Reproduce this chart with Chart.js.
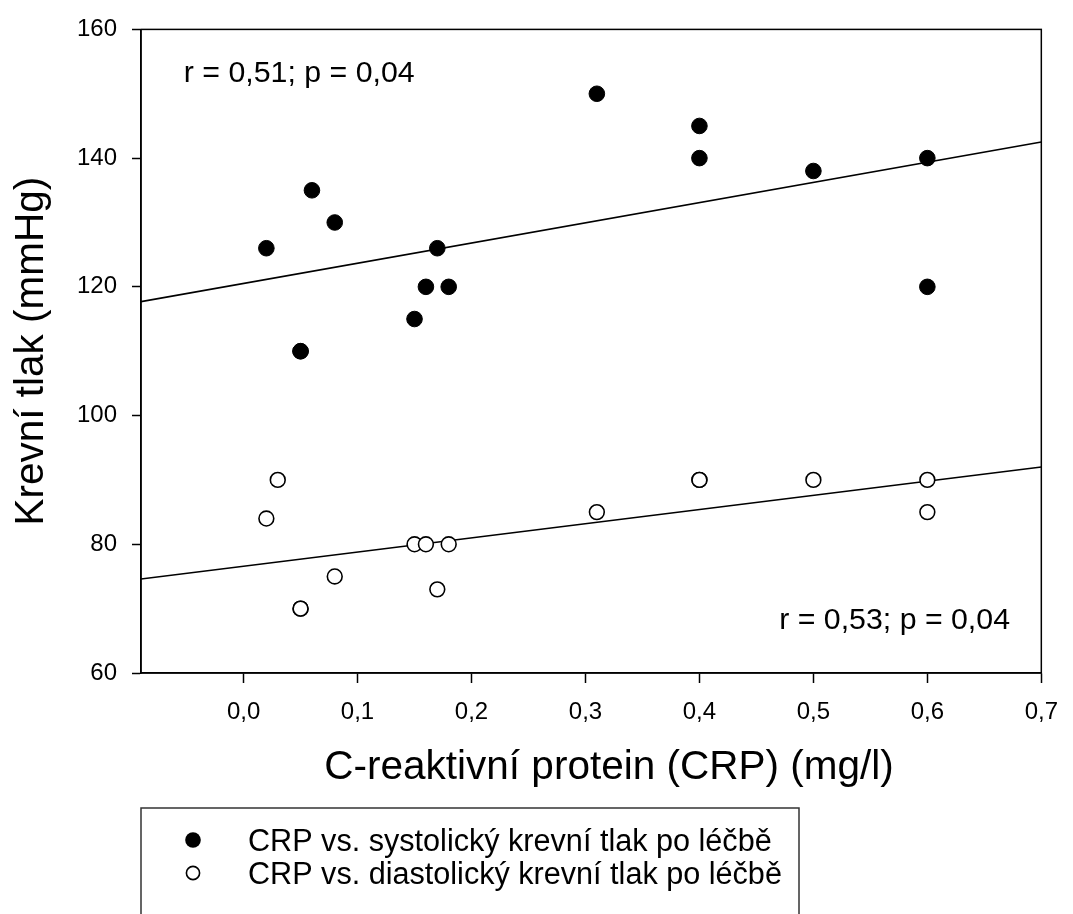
<!DOCTYPE html>
<html>
<head>
<meta charset="utf-8">
<script src="https://cdn.jsdelivr.net/npm/chart.js@4/dist/chart.umd.min.js"></script>
<style>
  html, body { margin: 0; padding: 0; background: #fff; }
  canvas { display: block; }
</style>
</head>
<body>
<canvas id="c" width="1073" height="914"></canvas>
<script>
// ---- data ----
const sysX = [0.02, 0.05, 0.05, 0.06, 0.08, 0.15, 0.16, 0.17, 0.18, 0.31, 0.40, 0.40, 0.50, 0.60, 0.60];
const sysY = [126, 110, 110, 135, 130, 115, 120, 126, 120, 150, 145, 140, 138, 140, 120];
const diaX = [0.02, 0.03, 0.05, 0.05, 0.08, 0.15, 0.16, 0.17, 0.18, 0.31, 0.40, 0.40, 0.50, 0.60, 0.60];
const diaY = [84, 90, 70, 70, 75, 80, 80, 73, 80, 85, 90, 90, 90, 90, 85];
const fitX = [-0.09, 0.70];
const sysFitY = [117.7, 142.5];
const diaFitY = [74.6, 92.0];
const xTickValues = [0.0, 0.1, 0.2, 0.3, 0.4, 0.5, 0.6, 0.7];
const xTickLabels = ['0,0', '0,1', '0,2', '0,3', '0,4', '0,5', '0,6', '0,7'];
const yTickValues = [60, 80, 100, 120, 140, 160];
const yTickLabels = ['60', '80', '100', '120', '140', '160'];
const seriesLabels = ['CRP vs. systolický krevní tlak po léčbě', 'CRP vs. diastolický krevní tlak po léčbě'];
const statTexts = ['r = 0,51; p = 0,04', 'r = 0,53; p = 0,04'];
const xTitle = 'C-reaktivní protein (CRP) (mg/l)';
const yTitle = 'Krevní tlak (mmHg)';

const FONT = '"Liberation Sans", Arial, Helvetica, sans-serif';
const pts = (xs, ys) => xs.map((x, i) => ({ x: x, y: ys[i] }));

const framePlugin = {
  id: 'frameAndNotes',
  afterDraw(chart) {
    const ctx = chart.ctx;
    const a = chart.chartArea;
    const xs = chart.scales.x, ys = chart.scales.y;
    ctx.save();
    // full frame around plot area
    ctx.strokeStyle = '#000';
    ctx.lineWidth = 1.5;
    ctx.strokeRect(a.left, a.top, a.right - a.left, a.bottom - a.top);

    // statistics texts (anchored in data space)
    ctx.fillStyle = '#000';
    ctx.font = '30.3px ' + FONT;
    ctx.textBaseline = 'alphabetic';
    ctx.textAlign = 'left';
    ctx.fillText(statTexts[0], xs.getPixelForValue(-0.0524), ys.getPixelForValue(151.9));
    ctx.textAlign = 'right';
    ctx.fillText(statTexts[1], xs.getPixelForValue(0.6725), ys.getPixelForValue(66.8));

    // x axis title
    ctx.font = '40.5px ' + FONT;
    ctx.textAlign = 'center';
    ctx.fillText(xTitle, 609, 779);

    // legend box
    ctx.strokeStyle = '#333';
    ctx.lineWidth = 1.5;
    ctx.strokeRect(141, 808, 658, 140);
    ctx.font = '30.6px ' + FONT;
    ctx.textAlign = 'left';
    // item 1: filled circle
    ctx.beginPath();
    ctx.arc(193, 840, 7.8, 0, Math.PI * 2);
    ctx.fillStyle = '#000';
    ctx.fill();
    ctx.fillText(seriesLabels[0], 248, 851);
    // item 2: open circle
    ctx.beginPath();
    ctx.arc(193, 873, 6.6, 0, Math.PI * 2);
    ctx.fillStyle = '#fff';
    ctx.fill();
    ctx.lineWidth = 1.6;
    ctx.strokeStyle = '#000';
    ctx.stroke();
    ctx.fillStyle = '#000';
    ctx.fillText(seriesLabels[1], 248, 884);
    ctx.restore();
  }
};

new Chart(document.getElementById('c'), {
  type: 'scatter',
  data: {
    datasets: [
      {
        label: seriesLabels[0],
        data: pts(sysX, sysY),
        pointRadius: 7.8,
        pointHoverRadius: 7.8,
        pointBackgroundColor: '#000',
        pointBorderColor: '#000',
        pointBorderWidth: 1
      },
      {
        label: seriesLabels[1],
        data: pts(diaX, diaY),
        pointRadius: 7.4,
        pointHoverRadius: 7.4,
        pointBackgroundColor: '#fff',
        pointBorderColor: '#000',
        pointBorderWidth: 1.6
      },
      {
        label: 'fit systolic',
        data: pts(fitX, sysFitY),
        showLine: true,
        pointRadius: 0,
        borderColor: '#000',
        borderWidth: 1.6,
        fill: false
      },
      {
        label: 'fit diastolic',
        data: pts(fitX, diaFitY),
        showLine: true,
        pointRadius: 0,
        borderColor: '#000',
        borderWidth: 1.6,
        fill: false
      }
    ]
  },
  options: {
    responsive: false,
    animation: false,
    devicePixelRatio: 1,
    layout: { padding: { top: 23, right: 27, left: 0, bottom: 0 } },
    plugins: {
      legend: { display: false },
      tooltip: { enabled: false }
    },
    scales: {
      x: {
        type: 'linear',
        min: -0.09,
        max: 0.7,
        afterFit(s) { s.height = 241; },
        afterBuildTicks(s) { s.ticks = xTickValues.map(v => ({ value: v })); },
        ticks: {
          color: '#000',
          font: { family: FONT, size: 24 },
          padding: 15,
          maxRotation: 0,
          autoSkip: false,
          callback: (v) => { const i = xTickValues.findIndex(t => Math.abs(t - v) < 1e-9); return i >= 0 ? xTickLabels[i] : ''; }
        },
        grid: { display: true, drawOnChartArea: false, drawTicks: true, tickLength: 10, tickColor: '#000', tickWidth: 1.5 },
        border: { display: true, color: '#000', width: 1.5 },
        title: { display: false, text: xTitle }
      },
      y: {
        type: 'linear',
        min: 60,
        max: 160,
        afterFit(s) { s.width = 141; },
        afterBuildTicks(s) { s.ticks = yTickValues.map(v => ({ value: v })); },
        ticks: {
          color: '#000',
          font: { family: FONT, size: 24 },
          padding: 15,
          autoSkip: false,
          callback: (v) => { const i = yTickValues.indexOf(v); return i >= 0 ? yTickLabels[i] : ''; }
        },
        grid: { display: true, drawOnChartArea: false, drawTicks: true, tickLength: 9, tickColor: '#000', tickWidth: 1.5 },
        border: { display: true, color: '#000', width: 1.5 },
        title: {
          display: true,
          text: yTitle,
          color: '#000',
          font: { family: FONT, size: 40.5 },
          padding: { top: 8, bottom: 0 }
        }
      }
    }
  },
  plugins: [framePlugin]
});
</script>
</body>
</html>
